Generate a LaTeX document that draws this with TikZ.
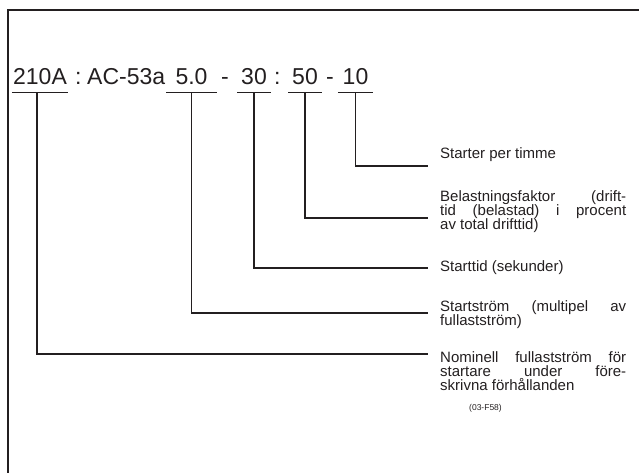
\documentclass[tikz,border=0pt]{standalone}
\usepackage{fontspec}
\setmainfont{Liberation Sans}
\definecolor{ink}{HTML}{231F20}
\newcommand{\jline}[1]{\makebox[186pt][s]{#1}}
\begin{document}
\begin{tikzpicture}[x=1pt,y=-1pt,
  ln/.style={line width=1.3pt, draw=ink},
  code/.style={font=\fontsize{23}{26}\selectfont, text=ink, inner xsep=0pt, inner ysep=8pt, anchor=base, text depth=0pt},
  sep/.style={font=\fontsize{23}{26}\selectfont, text=ink, inner sep=0pt, anchor=base west},
  lbl/.style={font=\fontsize{15}{14}\selectfont, text=ink, align=left, inner sep=0pt, anchor=base west},
  note/.style={font=\fontsize{8.5}{9}\selectfont, text=ink, inner sep=0pt, anchor=base west}]
\useasboundingbox (0,0) rectangle (639,472);
\draw[line width=2pt, draw=ink] (8,480) -- (8,10) -- (650,10);
% code line
\node[code, minimum width=56pt] (c210) at (40,84) {210A};
\node[sep] (s1) at (75,84) {:};
\node[sep] (ac) at (87,84) {AC-53a};
\node[code, minimum width=50pt] (c5) at (191.5,84) {5.0};
\node[sep] (s2) at (221,84) {-};
\node[code, minimum width=33pt] (c30) at (254,84) {30};
\node[sep] (s3) at (274,84) {:};
\node[code, minimum width=33pt] (c50) at (305,84) {50};
\node[sep] (s4) at (326,84) {-};
\node[code, minimum width=35pt] (c10) at (355.5,84) {10};
\foreach \n in {c210,c5,c30,c50,c10}
  \draw[ln] (\n.south west) -- (\n.south east);
% labels (base = baseline of last line)
\node[lbl] (l1) at (440,158) {Starter per timme};
\node[lbl] (l2) at (440,229) {\jline{Belastningsfaktor (drift-}\\\jline{tid (belastad) i procent}\\av total drifttid)};
\node[lbl] (l3) at (440,271) {Starttid (sekunder)};
\node[lbl] (l4) at (440,325) {\jline{Startström (multipel av}\\fullastström)};
\node[lbl] (l5) at (440,390) {\jline{Nominell fullastström för}\\\jline{startare under före-}\\skrivna förhållanden};
\node[note] (ref) at (469,410) {(03-F58)};
% line ends
\coordinate (e1) at (428,166);
\coordinate (e2) at (428,218);
\coordinate (e3) at (428,268);
\coordinate (e4) at (428,313);
\coordinate (e5) at (428,354);
\draw[ln] (c10.south) |- (e1);
\draw[ln] (c50.south) |- (e2);
\draw[ln] (c30.south) |- (e3);
\draw[ln] (c5.south) |- (e4);
\draw[ln] ([xshift=-3pt]c210.south) |- (e5);
\end{tikzpicture}
\end{document}
